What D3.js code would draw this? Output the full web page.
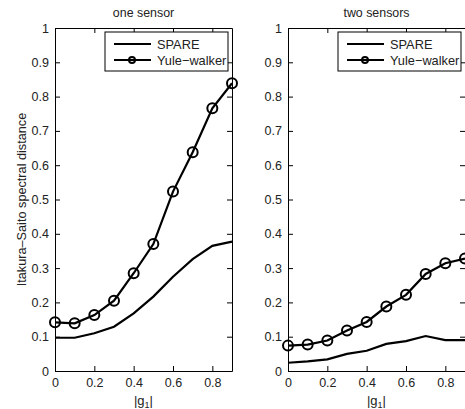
<!DOCTYPE html>
<html>
<head>
<meta charset="utf-8">
<script src="https://cdn.jsdelivr.net/npm/d3@7"></script>
<style>
  body { margin: 0; background: #fff; }
  svg { display: block; font-family: "Liberation Sans", Arial, sans-serif; }
</style>
</head>
<body>
<svg id="chart" width="465" height="409"></svg>
<script>
const gValues = [0, 0.1, 0.2, 0.3, 0.4, 0.5, 0.6, 0.7, 0.8, 0.9];

const oneSpare = [0.097, 0.097, 0.110, 0.129, 0.168, 0.217, 0.275, 0.326, 0.365, 0.377];
const oneYule = [0.142, 0.139, 0.163, 0.205, 0.285, 0.370, 0.523, 0.638, 0.766, 0.839];

const twoSpare = [0.024, 0.028, 0.034, 0.050, 0.059, 0.079, 0.087, 0.102, 0.090, 0.090];
const twoYule = [0.074, 0.077, 0.089, 0.118, 0.143, 0.188, 0.222, 0.283, 0.314, 0.328];

const xTicks = [0, 0.2, 0.4, 0.6, 0.8];
const yTicks = [0, 0.1, 0.2, 0.3, 0.4, 0.5, 0.6, 0.7, 0.8, 0.9, 1];
const legendNames = ['SPARE', 'Yule\u2212walker'];

const svg = d3.select('#chart');

const panels = [
  { title: 'one sensor', left: 55, right: 232, spare: oneSpare, yule: oneYule, ylabel: true },
  { title: 'two sensors', left: 288, right: 465, spare: twoSpare, yule: twoYule, ylabel: false },
];

const plotTop = 28, plotBottom = 371;

panels.forEach((p) => {
  const x = d3.scaleLinear().domain([0, 0.9]).range([p.left, p.right]);
  const y = d3.scaleLinear().domain([0, 1]).range([plotBottom, plotTop]);
  const g = svg.append('g');
  const mid = (p.left + p.right) / 2;

  // ticks inside on all sides, like matlab
  const tl = 5;
  g.append('g')
    .attr('transform', `translate(0,${plotBottom})`)
    .call(d3.axisBottom(x).tickValues(xTicks).tickSizeInner(-tl).tickSizeOuter(0).tickPadding(7)
      .tickFormat(d3.format('~g')));
  g.append('g')
    .attr('transform', `translate(0,${plotTop})`)
    .call(d3.axisTop(x).tickValues(xTicks).tickSizeInner(-tl).tickSizeOuter(0).tickFormat(''));
  g.append('g')
    .attr('transform', `translate(${p.left},0)`)
    .call(d3.axisLeft(y).tickValues(yTicks).tickSizeInner(-tl).tickSizeOuter(0).tickPadding(6)
      .tickFormat(d3.format('~g')));
  g.append('g')
    .attr('transform', `translate(${p.right},0)`)
    .call(d3.axisRight(y).tickValues(yTicks).tickSizeInner(-tl).tickSizeOuter(0).tickFormat(''));

  g.selectAll('.domain').attr('stroke', '#000').attr('stroke-width', 1);
  g.selectAll('.tick line').attr('stroke', '#000');
  g.selectAll('.tick text').attr('font-size', 12.5).attr('fill', '#222')
    .attr('font-family', '"Liberation Sans", Arial, sans-serif');

  const line = d3.line().x((d, i) => x(gValues[i])).y((d) => y(d));

  g.append('path')
    .datum(p.spare)
    .attr('d', line)
    .attr('fill', 'none')
    .attr('stroke', '#000')
    .attr('stroke-width', 2.2);

  g.append('path')
    .datum(p.yule)
    .attr('d', line)
    .attr('fill', 'none')
    .attr('stroke', '#000')
    .attr('stroke-width', 2.2);

  g.selectAll('circle.mk')
    .data(p.yule)
    .enter().append('circle')
    .attr('class', 'mk')
    .attr('cx', (d, i) => x(gValues[i]))
    .attr('cy', (d) => y(d))
    .attr('r', 5)
    .attr('fill', 'none')
    .attr('stroke', '#000')
    .attr('stroke-width', 2);

  // title
  svg.append('text')
    .attr('x', mid)
    .attr('y', 17)
    .attr('text-anchor', 'middle')
    .attr('font-size', 12.4)
    .attr('fill', '#222')
    .text(p.title);

  // x label |g1|
  const xl = svg.append('text')
    .attr('x', mid)
    .attr('y', 405)
    .attr('text-anchor', 'middle')
    .attr('font-size', 13)
    .attr('fill', '#222');
  xl.append('tspan').text('|g');
  xl.append('tspan').attr('font-size', 9).attr('dy', 3).text('1');
  xl.append('tspan').attr('dy', -3).text('|');

  if (p.ylabel) {
    svg.append('text')
      .attr('transform', `translate(26,${(plotTop + plotBottom) / 2}) rotate(-90)`)
      .attr('text-anchor', 'middle')
      .attr('font-size', 12.7)
      .attr('fill', '#222')
      .text('Itakura\u2013Saito spectral distance');
  }

  // legend
  const lx = p.left + 50, ly = 32, lw = 123, lh = 39;
  const leg = svg.append('g');
  leg.append('rect')
    .attr('x', lx).attr('y', ly).attr('width', lw).attr('height', lh)
    .attr('fill', '#fff').attr('stroke', '#000').attr('stroke-width', 1);
  legendNames.forEach((name, i) => {
    const ry = ly + 12 + i * 16;
    leg.append('line')
      .attr('x1', lx + 9).attr('x2', lx + 46)
      .attr('y1', ry).attr('y2', ry)
      .attr('stroke', '#000').attr('stroke-width', 2.2);
    if (i === 1) {
      leg.append('circle')
        .attr('cx', lx + 27).attr('cy', ry).attr('r', 3)
        .attr('fill', 'none').attr('stroke', '#000').attr('stroke-width', 2);
    }
    leg.append('text')
      .attr('x', lx + 52).attr('y', ry + 4.5)
      .attr('font-size', 12.8)
      .attr('fill', '#222')
      .text(name);
  });
});
</script>
</body>
</html>
